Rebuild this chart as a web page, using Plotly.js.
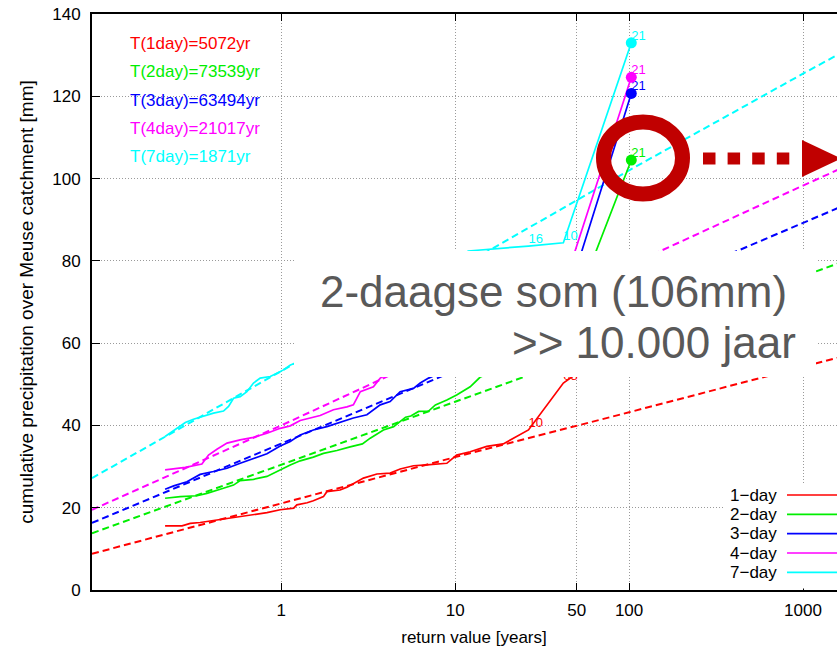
<!DOCTYPE html>
<html>
<head>
<meta charset="utf-8">
<script src="https://cdn.plot.ly/plotly-3.0.1.min.js"></script>
<style>
html,body{margin:0;padding:0;overflow:hidden;background:#fff;width:837px;height:650px;}
#chart{width:856px;height:650px;}
</style>
</head>
<body>
<div id="chart"></div>
<script>
// ---------- data ----------
const seriesNames = ['1\u2212day','2\u2212day','3\u2212day','4\u2212day','7\u2212day'];
const seriesColors = ['#ff0000','#00ee00','#0000ff','#ff00ff','#00ffff'];
const tLabels = ['T(1day)=5072yr','T(2day)=73539yr','T(3day)=63494yr','T(4day)=21017yr','T(7day)=1871yr'];

// fitted (dashed) lines
const fitX = [0.0817, 1, 10, 100, 1000, 1600];
const fitRed     = [8.8, 21.0, 32.3, 43.2, 54.3, 56.5];
const fitGreen   = [13.8, 30.5, 45.75, 61.0, 76.25, 79.4];
const fitBlue    = [16.3, 35.5, 53.3, 71.2, 89.1, 92.9];
const fitMagenta = [19.5, 40.0, 59.5, 79.0, 98.3, 102.2];
const fitCyan    = [27.2, 53.2, 77.8, 102.0, 125.5, 130.2];

// empirical (solid) curves; last point = 2021
const redX = [0.215,0.269,0.300,0.342,0.408,0.488,0.581,0.693,0.828,0.987,1.18,1.23,1.41,1.53,1.75,1.83,2.18,2.39,2.60,2.97,3.55,4.23,4.83,5.76,6.88,8.20,8.96,10.2,12.2,15.2,18.9,26.4,41.9,103];
const redY = [15.6,15.6,16.2,16.4,16.9,17.4,17.8,18.4,18.8,19.5,19.9,20.7,21.2,21.7,22.7,23.9,24.3,25.0,25.9,27.2,28.2,28.4,29.4,30.2,30.4,30.6,30.8,32.8,33.6,34.9,35.5,38.9,50.3,62.1];

const greenX = [0.215,0.263,0.328,0.374,0.446,0.532,0.581,0.693,0.828,0.987,1.127,1.286,1.53,1.75,2.09,2.49,2.93,3.25,3.87,4.43,5.19,5.56,6.17,7.04,7.70,8.96,10.2,12.2,13.9,26.4,41.9,103];
const greenY = [22.3,22.7,22.9,23.5,24.5,25.5,26.6,26.9,27.6,29.2,30.4,31.4,32.3,33.2,33.9,34.8,35.5,36.9,38.9,39.7,42.0,42.3,43.4,43.5,45.0,46.2,47.4,49.4,51.7,57.0,61.8,104.5];

const blueX = [0.215,0.241,0.287,0.342,0.408,0.488,0.581,0.693,0.828,0.987,1.127,1.286,1.53,1.83,2.09,2.28,2.60,3.11,3.39,3.71,4.23,4.83,5.76,6.30,7.04,12,26.4,41.9,103];
const blueY = [24.5,25.3,26.3,28.1,28.8,29.6,30.8,32.0,33.1,35.0,36.1,37.7,38.9,39.7,40.5,41.2,41.8,42.6,43.8,45.0,45.8,48.2,49.0,50.3,51.5,56.0,63.0,68.1,120.7];

const magentaX = [0.215,0.281,0.350,0.382,0.427,0.488,0.581,0.693,0.828,0.987,1.127,1.286,1.675,1.998,2.386,2.60,2.85,3.11,3.39,3.71,6,12,26.4,41.9,103];
const magentaY = [29.2,29.8,30.6,32.8,34.2,35.7,36.5,37.1,38.1,39.3,39.9,41.2,42.4,43.8,44.5,45.0,48.2,48.8,49.4,51.5,56,62,70,73.6,124.6];

const cyanX = [0.215,0.235,0.257,0.281,0.313,0.358,0.408,0.466,0.498,0.532,0.581,0.635,0.693,0.757,0.865,0.945,1.03,1.13,1.20,2.0,4.0,7.0,11.9,26.4,41.9,103];
const cyanY = [37.3,38.5,39.7,40.7,41.5,42.3,43.0,43.5,44.6,46.6,47.0,48.2,50.3,51.5,51.9,52.7,53.5,54.7,55.1,61,69,76,82.4,83.6,84.4,133.0];

// year labels on some points ('' = label hidden in the original)
const lastYearText = ['', '21', '21', '21', '21'];
const cyanYearX = [26.4, 41.9], cyanYearY = [83.6, 84.4], cyanYearText = ['16','10'];
const redYearX = [26.4, 41.9], redYearY = [38.9, 50.3], redYearText = ['10','08'];

const xTickVals = [1, 10, 50, 100, 1000];
const xTickText = ['1','10','50','100','1000'];
const yTickVals = [0,20,40,60,80,100,120,140];

const bigLine1 = '2-daagse som (106mm)';
const bigLine2 = '&gt;&gt; 10.000 jaar';

// ---------- build ----------
const FONT = 'Liberation Sans, Arial, Helvetica, sans-serif';
const fits = [fitRed, fitGreen, fitBlue, fitMagenta, fitCyan];
const empX = [redX, greenX, blueX, magentaX, cyanX];
const empY = [redY, greenY, blueY, magentaY, cyanY];

const traces = [];
fits.forEach((f,i)=>{
  traces.push({x: fitX, y: f, mode:'lines', type:'scatter', hoverinfo:'skip',
    line:{color: seriesColors[i], width:2, dash:'7px,4px'}});
});
empX.forEach((xs,i)=>{
  traces.push({x: xs, y: empY[i], mode:'lines', type:'scatter', hoverinfo:'skip',
    line:{color: seriesColors[i], width:1.7}});
});
empX.forEach((xs,i)=>{
  const n = xs.length-1;
  traces.push({x:[xs[n]], y:[empY[i][n]], mode:'markers', type:'scatter',
    marker:{color:seriesColors[i], size:11}});
  if (lastYearText[i]) {
    traces.push({x:[xs[n]], y:[empY[i][n]], mode:'text', type:'scatter', text:[lastYearText[i]],
      textposition:'top right', cliponaxis:false,
      textfont:{family:FONT, size:13, color:seriesColors[i]}});
  }
});
traces.push({x:cyanYearX, y:cyanYearY, text:cyanYearText, mode:'text', type:'scatter',
  textposition:'top right', textfont:{family:FONT, size:13, color:seriesColors[4]}});
traces.push({x:redYearX, y:redYearY, text:redYearText, mode:'text', type:'scatter',
  textposition:'top right', textfont:{family:FONT, size:13, color:seriesColors[0]}});

// pixel -> paper helpers (plot area l=92, r=856, t=14, b=590)
const PL=92, PR=856, PT=14, PB=590;
const px = p => (p-PL)/(PR-PL);
const py = p => (PB-p)/(PB-PT);

const shapes = [];
// opaque text box
shapes.push({type:'rect', xref:'paper', yref:'paper', layer:'above',
  x0:px(294), x1:px(816), y0:py(377), y1:py(251), fillcolor:'#ffffff', line:{width:0}});
// legend background
shapes.push({type:'rect', xref:'paper', yref:'paper', layer:'above',
  x0:px(724), x1:px(856), y0:py(588.5), y1:py(485), fillcolor:'#ffffff', line:{width:0}});
const legRows = [495, 514.3, 533.6, 553, 572.3];
legRows.forEach((r,i)=>{
  shapes.push({type:'line', xref:'paper', yref:'paper', layer:'above',
    x0:px(787), x1:px(856), y0:py(r), y1:py(r), line:{color:seriesColors[i], width:1.7}});
});
// red ring
shapes.push({type:'circle', xref:'paper', yref:'paper', layer:'above',
  x0:px(643-39.5), x1:px(643+39.5), y0:py(158+36), y1:py(158-36),
  line:{color:'#c00000', width:15}, fillcolor:'rgba(0,0,0,0)'});
// dotted arrow
for (let k=0;k<4;k++){
  const a = 703 + k*24.6;
  shapes.push({type:'rect', xref:'paper', yref:'paper', layer:'above',
    x0:px(a), x1:px(a+12.5), y0:py(164.5), y1:py(152.5), fillcolor:'#c00000', line:{width:0}});
}
shapes.push({type:'path', xref:'paper', yref:'paper', layer:'above',
  path:`M ${px(802)} ${py(140)} L ${px(802)} ${py(177)} L ${px(841)} ${py(158.5)} Z`,
  fillcolor:'#c00000', line:{width:0}});

const annotations = [];
const tRows = [43.3, 71.7, 100, 128.3, 157];
tLabels.forEach((t,i)=>{
  annotations.push({xref:'paper', yref:'paper', x:px(128), y:py(tRows[i]), xanchor:'left', yanchor:'middle',
    text:t, showarrow:false, font:{family:FONT, size:17, color:seriesColors[i]}});
});
seriesNames.forEach((s,i)=>{
  annotations.push({xref:'paper', yref:'paper', x:px(779), y:py(legRows[i]), xanchor:'right', yanchor:'middle',
    text:s, showarrow:false, font:{family:FONT, size:17, color:'#000'}});
});
annotations.push({xref:'paper', yref:'paper', x:px(318), y:py(291), xanchor:'left', yanchor:'middle',
  text:bigLine1, showarrow:false, font:{family:FONT, size:44, color:'#595959'}});
annotations.push({xref:'paper', yref:'paper', x:px(798), y:py(342), xanchor:'right', yanchor:'middle',
  text:bigLine2, showarrow:false, font:{family:FONT, size:44, color:'#595959'}});

const layout = {
  width:856, height:650,
  margin:{l:PL, r:856-PR, t:PT, b:650-PB},
  paper_bgcolor:'#ffffff', plot_bgcolor:'#ffffff',
  showlegend:false,
  font:{family:FONT, size:17, color:'#000'},
  xaxis:{type:'log', range:[Math.log10(0.0817), Math.log10(2017)],
    tickmode:'array', tickvals:xTickVals, ticktext:xTickText,
    ticks:'inside', ticklen:7, tickwidth:1, tickcolor:'#000',
    showline:true, linecolor:'#000', linewidth:2, mirror:'ticks',
    showgrid:true, gridcolor:'#9a9a9a', gridwidth:1, griddash:'1px,2px',
    zeroline:false, automargin:false, ticklabelstandoff:4,
    tickfont:{family:FONT, size:17, color:'#000'},
    title:{text:'return value [years]', font:{family:FONT, size:17, color:'#000'}, standoff:12}},
  yaxis:{range:[0,140], tickmode:'array', tickvals:yTickVals,
    ticks:'inside', ticklen:8, tickwidth:1, tickcolor:'#000',
    showline:true, linecolor:'#000', linewidth:2, mirror:false,
    showgrid:true, gridcolor:'#9a9a9a', gridwidth:1, griddash:'1px,2px',
    zeroline:false, automargin:false, ticklabelstandoff:6,
    tickfont:{family:FONT, size:17, color:'#000'},
    title:{text:'cumulative precipitation over Meuse catchment [mm]', font:{family:FONT, size:19, color:'#000'}, standoff:14}},
  shapes: shapes,
  annotations: annotations
};

Plotly.newPlot('chart', traces, layout, {staticPlot:true, displayModeBar:false});
</script>
</body>
</html>
